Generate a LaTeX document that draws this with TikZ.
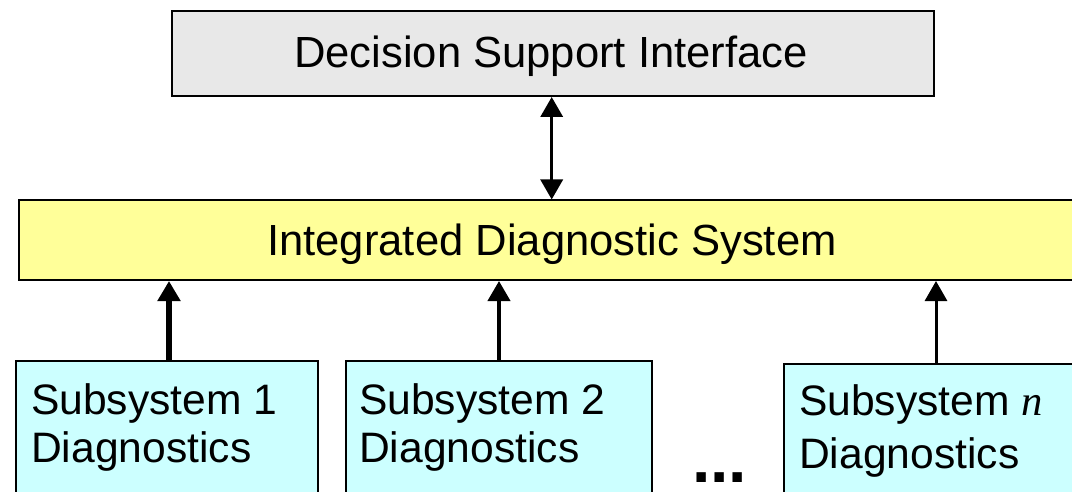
\documentclass[tikz,border=0pt]{standalone}
\usepackage{fontspec}
\setmainfont{Liberation Sans}
\newfontfamily\serifit{Liberation Serif}
\usetikzlibrary{arrows.meta}

\definecolor{dsigray}{HTML}{E8E8E8}
\definecolor{idsyellow}{HTML}{FFFF99}
\definecolor{subcyan}{HTML}{CCFFFF}

\begin{document}
\begin{tikzpicture}[x=1pt,y=-1pt,
  box/.style={draw=black, line width=2pt, inner sep=0pt, anchor=north west},
  lbl/.style={inner sep=0pt, anchor=base west, font=\fontsize{42.6pt}{48pt}\selectfont},
  title/.style={inner sep=0pt, anchor=base, font=\fontsize{43.6pt}{50pt}\selectfont},
  up/.style={-{Triangle[length=20pt,width=22pt]}},
  both/.style={{Triangle[length=20pt,width=22pt]}-{Triangle[length=20pt,width=22pt]}},
  ]
\clip (0,0) rectangle (1072,492);

% boxes
\node[box, fill=dsigray, minimum width=762pt, minimum height=85pt] (dsi) at (171,10) {};
\node[box, fill=idsyellow, minimum width=1080pt, minimum height=79.5pt] (ids) at (17.5,199.5) {};
\node[box, fill=subcyan, minimum width=302pt, minimum height=160pt] (s1) at (15,360) {};
\node[box, fill=subcyan, minimum width=306pt, minimum height=160pt] (s2) at (345,360) {};
\node[box, fill=subcyan, minimum width=320pt, minimum height=160pt] (sn) at (783,363) {};

% box texts
\node[title] (dsit) at (551,68) {Decision Support Interface};
\node[title] (idst) at (552,255) {Integrated Diagnostic System};
\node[lbl] (s1a) at (31,414) {Subsystem 1};
\node[lbl] (s1b) at (31,462) {Diagnostics};
\node[lbl] (s2a) at (359,414) {Subsystem 2};
\node[lbl] (s2b) at (359,462) {Diagnostics};
\node[lbl] (sna) at (799,415) {Subsystem {\serifit\itshape n}};
\node[lbl] (snb) at (799,468) {Diagnostics};
\node[inner sep=0pt, anchor=base west, font=\bfseries\fontsize{66pt}{70pt}\selectfont] (dots) at (692,482) {...};

% connectors
\draw[both, line width=3.5pt] ([xshift=-1.3pt]dsi.south) -- ([xshift=-1.3pt]dsi.south |- ids.north);
\draw[up, line width=6pt] ([xshift=2pt]s1.north) -- ([xshift=2pt]s1.north |- ids.south);
\draw[up, line width=4pt] (s2.north) -- (s2.north |- ids.south);
\draw[up, line width=3pt] ([xshift=153pt]sn.north west) -- ([xshift=153pt]sn.north west |- ids.south);
\end{tikzpicture}
\end{document}
